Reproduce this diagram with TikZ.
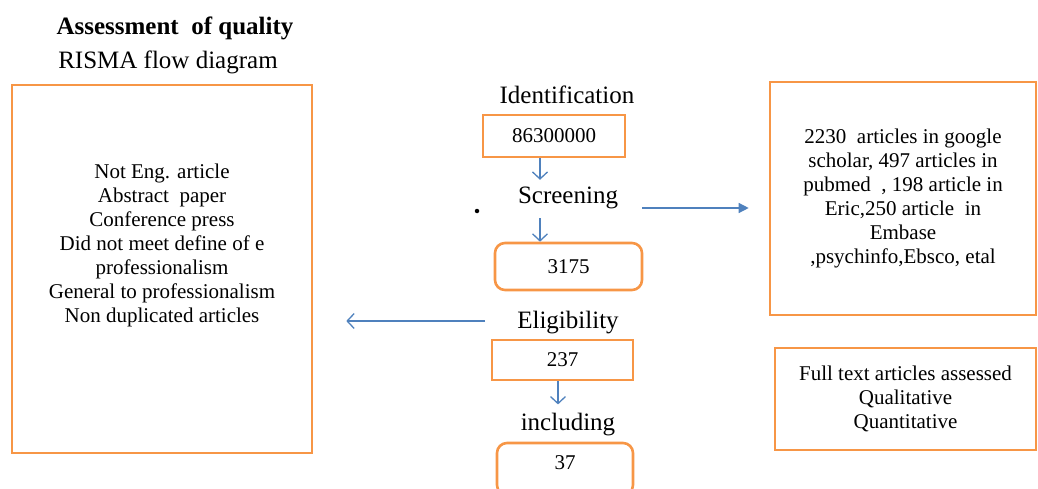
\documentclass[tikz,border=0pt]{standalone}
\usepackage{fontspec}
\setmainfont{Liberation Serif}
\usetikzlibrary{positioning, arrows.meta}
\definecolor{boxorange}{RGB}{247,150,70}
\definecolor{flowblue}{RGB}{79,129,189}
\tikzset{
x=1pt, y=-1pt, % one unit per pixel, y runs downwards
every node/.style={inner sep=0pt, font=\fontsize{21}{24}\selectfont}, % box text size
stagebox/.style={draw=boxorange, line width=2.6pt, align=center}, % orange frames
roundbox/.style={stagebox, rounded corners=10pt},
stagelabel/.style={font=\fontsize{25}{28}\selectfont}, % Identification, Screening, ...
flow/.style={draw=flowblue, line width=1.3pt, -{Straight Barb[length=7pt,width=15pt]}}, % open arrow heads
}
\tikzset{
  flowsolid/.append style={flow, -{Triangle[length=10pt,width=10pt]}}
}

\begin{document}
\begin{tikzpicture}
      \useasboundingbox (0,0) rectangle (1038,489);
      \node[stagelabel, font=\fontsize{25}{28}\selectfont\bfseries] (title) at (175,28) {Assessment\ \ of quality};
      \node[stagelabel] (subtitle) at (168,62) {RISMA flow diagram};

      \node[stagebox, minimum width=300pt, minimum height=368pt] (exclbox) at (162,269) {};
      \node[align=center] (excltext) at (162,245) {Not Eng. article\\Abstract\ \ paper\\Conference press\\Did not meet define of e\\professionalism\\General to professionalism\\Non duplicated articles};

      \node[stagelabel] (ident) at (567,95) {Identification};
      \node[stagebox, minimum width=142pt, minimum height=42pt] (idbox) at (554,136) {86300000};
      \node[stagelabel] (screen) at (568,198) {Screening};
      \node[circle, fill=black, minimum size=4.5pt] (dot) at (477,211) {};
      \node[roundbox, minimum width=147pt, minimum height=47pt] (scrbox) at (568.5,266.5) {3175};
      \node[stagelabel] (elig) at (568,323) {Eligibility};
      \node[stagebox, minimum width=141pt, minimum height=40pt] (elbox) at (562.5,360) {237};
      \node[stagelabel] (incl) at (568,425) {including};
      \node[roundbox, minimum width=136pt, minimum height=52pt, text height=14pt, text depth=14pt] (incbox) at (565,469) {37};

      \node[stagebox, minimum width=266pt, minimum height=233pt] (srcbox) at (903,198.5) {2230\ \ articles in google\\scholar, 497 articles in\\pubmed\ \ , 198 article in\\Eric,250 article\ \ in\\Embase\\,psychinfo,Ebsco, etal};
      \node[stagebox, minimum width=261pt, minimum height=102pt] (fullbox) at (905.5,399) {Full text articles assessed\\Qualitative\\Quantitative};

      \coordinate (scrright) at (642,208);
      \coordinate (eligleft) at (485,321);

      \draw[flow] ([xshift=-14pt]idbox.south) -- ([xshift=-28pt,yshift=7pt]screen.north);
      \draw[flow] ([xshift=-28pt,yshift=-9pt]screen.south) -- ([xshift=-28.5pt]scrbox.north);
      \draw[flow] ([xshift=-4.5pt]elbox.south) -- ([xshift=-10pt,yshift=9pt]incl.north);
      \draw[flowsolid, shorten >=20pt] (scrright) -- (scrright -| srcbox.west);
      \draw[flow, shorten >=33pt] (eligleft) -- (eligleft -| exclbox.east);
    \end{tikzpicture}
\end{document}
